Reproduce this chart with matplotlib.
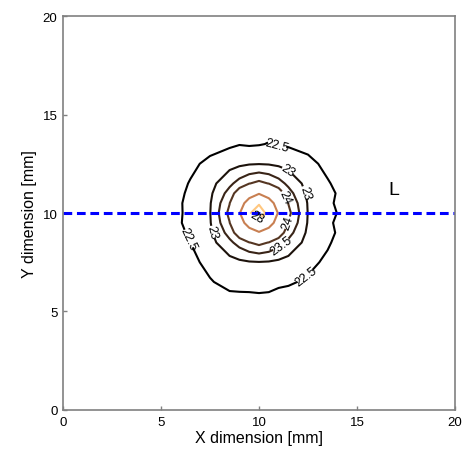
import numpy as np
import matplotlib as mpl
mpl.use('Agg')
import matplotlib.pyplot as plt

## grid positions [mm] (finer near the hot spot)
xs = [4, 5.5, 6.5, 7.5, 8.5, 9, 9.5, 10, 10.5, 11, 11.5, 12.5, 13.5, 14.5, 16]
ys = [4, 5.5, 6.5, 7.5, 8.5, 9, 9.5, 10, 10.5, 11, 11.5, 12.5, 13.5, 14.5, 16]

## temperature field, rows go bottom -> top
temps = [
  [22.00, 22.05, 22.08, 22.10, 22.10, 22.10, 22.10, 22.10, 22.10, 22.10, 22.10, 22.10, 22.08, 22.05, 22.00],
  [22.05, 22.12, 22.20, 22.30, 22.36, 22.42, 22.35, 22.40, 22.36, 22.34, 22.30, 22.24, 22.15, 22.10, 22.05],
  [22.10, 22.20, 22.33, 22.47, 22.62, 22.58, 22.66, 22.63, 22.65, 22.57, 22.55, 22.44, 22.30, 22.17, 22.08],
  [22.10, 22.24, 22.40, 22.61, 22.82, 22.90, 22.96, 22.98, 22.96, 22.90, 22.82, 22.61, 22.42, 22.22, 22.10],
  [22.10, 22.30, 22.50, 22.82, 23.38, 23.70, 23.98, 24.15, 23.98, 23.70, 23.38, 22.82, 22.55, 22.28, 22.10],
  [22.10, 22.31, 22.56, 22.90, 23.70, 24.35, 25.30, 25.90, 25.30, 24.35, 23.70, 22.90, 22.62, 22.31, 22.10],
  [22.10, 22.32, 22.64, 22.96, 23.98, 25.30, 26.70, 27.10, 26.70, 25.30, 23.98, 22.96, 22.57, 22.32, 22.10],
  [22.10, 22.35, 22.60, 22.98, 24.15, 25.90, 27.70, 29.50, 27.10, 25.90, 24.15, 22.98, 22.65, 22.33, 22.10],
  [22.10, 22.30, 22.64, 22.96, 23.98, 25.30, 26.70, 27.70, 26.70, 25.30, 23.98, 22.96, 22.58, 22.32, 22.10],
  [22.10, 22.33, 22.57, 22.90, 23.70, 24.35, 25.30, 25.90, 25.30, 24.35, 23.70, 22.90, 22.63, 22.31, 22.10],
  [22.10, 22.28, 22.53, 22.82, 23.38, 23.70, 23.98, 24.15, 23.98, 23.70, 23.38, 22.82, 22.54, 22.28, 22.10],
  [22.10, 22.22, 22.40, 22.61, 22.82, 22.90, 22.96, 22.98, 22.96, 22.90, 22.82, 22.63, 22.38, 22.22, 22.10],
  [22.06, 22.12, 22.20, 22.33, 22.42, 22.48, 22.45, 22.47, 22.52, 22.46, 22.44, 22.35, 22.22, 22.12, 22.06],
  [22.05, 22.10, 22.15, 22.22, 22.28, 22.31, 22.32, 22.33, 22.32, 22.31, 22.28, 22.22, 22.15, 22.10, 22.05],
  [22.00, 22.05, 22.08, 22.10, 22.10, 22.10, 22.10, 22.10, 22.10, 22.10, 22.10, 22.10, 22.08, 22.05, 22.00],
]

levels = [22.5, 23, 23.5, 24, 26, 28]

## where the labels sit (each spot sits next to the contour it names)
label_spots = [
  (10.9, 13.4), (6.4, 8.7), (12.3, 6.9),     # 22.5
  (11.5, 12.2), (12.5, 11.1), (7.5, 9.0),    # 23
  (11.2, 8.3),                               # 23.5
  (11.4, 10.85), (11.6, 9.45),               # 24
  (9.8, 9.7),                                # 28
]

line_y = 10.0
line_name = 'L'
line_name_pos = (16.9, 10.75)

plt.rcParams['font.family'] = ['Liberation Sans', 'DejaVu Sans']

fig = plt.figure(figsize=(4.67, 4.56), dpi=100)
ax = fig.add_axes([0.1349, 0.0987, 0.8394, 0.864])

cs = ax.contour(xs, ys, np.array(temps), levels=levels, cmap='copper', linewidths=1.5)
ax.clabel(cs, manual=label_spots, inline=True, inline_spacing=4,
          fontsize=9, colors='k', fmt='%g')

ax.axhline(line_y, color='#0000ff', lw=2.2, linestyle=(0, (2.85, 1.55)))
ax.text(line_name_pos[0], line_name_pos[1], line_name, fontsize=14, ha='center', va='bottom')

ax.set_xlim(0, 20)
ax.set_ylim(0, 20)
ax.set_xticks([0, 5, 10, 15, 20])
ax.set_yticks([0, 5, 10, 15, 20])
ax.tick_params(direction='in', length=3, width=1, color='#808080', labelsize=9.5, pad=4)
for sp in ax.spines.values():
  sp.set_color('#808080')
  sp.set_linewidth(1.2)
ax.set_xlabel('X dimension [mm]', fontsize=11.5, labelpad=2)
ax.set_ylabel('Y dimension [mm]', fontsize=11.5, labelpad=4)

fig.savefig('out.png', dpi=100)
